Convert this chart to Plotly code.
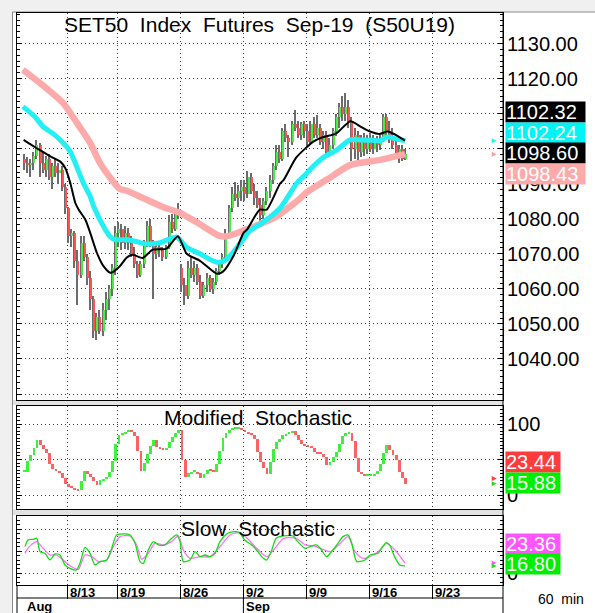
import plotly.graph_objects as go

W, H = 595, 613

# ---------------- data (x measured in trading days, 0 = 13 Aug 2019) ----------------
week_ticks = [0, 4, 9, 14, 19, 24, 29]
week_labels = ["8/13", "8/19", "8/26", "9/2", "9/9", "9/16", "9/23"]
month_ticks = [-3.4, 14]
month_labels = ["Aug", "Sep"]

session_days = list(range(-4, 27))      # 6 Aug .. 18 Sep (12 Aug holiday skipped)
BARS_PER_DAY = 4
first_day_bars = 2                      # chart starts with the last bars of 6 Aug

opens = [
    1097, 1096,
    1095.5, 1096, 1098, 1101,
    1096, 1094, 1097, 1092,
    1095, 1093, 1094, 1089,
    1083, 1075, 1076, 1068,
    1064, 1073, 1069, 1063,
    1057, 1048, 1052, 1048,
    1054, 1057, 1060, 1066,
    1076, 1077, 1073, 1076,
    1073, 1070, 1067, 1064,
    1067, 1073, 1078, 1073,
    1070, 1072, 1071, 1069,
    1072, 1079, 1077, 1082,
    1066, 1061, 1058, 1066,
    1064, 1066, 1062, 1058,
    1061, 1063, 1060, 1062,
    1065, 1067, 1069, 1076,
    1083, 1087, 1086, 1088,
    1089, 1087, 1092, 1088,
    1086, 1084, 1081, 1085,
    1088, 1091, 1095, 1099,
    1097, 1105, 1103, 1102,
    1107, 1106, 1104, 1107,
    1105, 1102, 1107, 1104,
    1106, 1102, 1104, 1099,
    1101, 1105, 1109, 1112,
    1110, 1112, 1108, 1100,
    1104, 1099, 1102, 1100,
    1103, 1100, 1102, 1101,
    1103, 1109, 1105, 1103,
    1101, 1098, 1100, 1097,
]
highs = [
    1098.5, 1097.5,
    1097, 1099, 1102.5, 1101.5,
    1099, 1098, 1098.5, 1096,
    1097, 1096, 1095, 1090,
    1083.5, 1077, 1076.5, 1071,
    1075, 1075, 1070, 1065,
    1058, 1053, 1054, 1056,
    1059, 1061, 1067, 1078,
    1079, 1078.5, 1078, 1077.5,
    1075, 1072, 1068, 1068,
    1074, 1079.5, 1080, 1074,
    1073.5, 1073, 1072, 1072.5,
    1081, 1081.5, 1083, 1084.5,
    1067, 1063, 1068, 1069.5,
    1068, 1067, 1064, 1062,
    1064.5, 1064, 1063, 1066,
    1068, 1070, 1077, 1084,
    1089, 1090.5, 1089.5, 1091,
    1091, 1093.5, 1093, 1090,
    1088, 1086, 1086, 1089,
    1092.5, 1096, 1101, 1101,
    1106, 1107, 1104, 1108,
    1111, 1108, 1107.5, 1108,
    1107, 1108, 1109, 1109.5,
    1107, 1105, 1105, 1103,
    1106, 1110, 1113, 1115,
    1116, 1114, 1109, 1106,
    1105, 1104, 1104.5, 1104,
    1104.5, 1104, 1103.5, 1104,
    1110, 1110, 1108, 1106,
    1102.5, 1101, 1101, 1100,
]
lows = [
    1094, 1093,
    1092, 1094, 1097, 1092,
    1093, 1092, 1091, 1088.5,
    1092, 1090, 1088, 1081.5,
    1073, 1072, 1066, 1055.5,
    1063, 1068, 1061, 1054,
    1046, 1045.5, 1047, 1046.5,
    1051, 1054, 1058, 1064,
    1072, 1071, 1071.5, 1071,
    1069, 1066, 1063, 1063.5,
    1066, 1072, 1072, 1057,
    1068.5, 1069, 1068, 1068.5,
    1071.5, 1076, 1076.5, 1080,
    1059, 1055.5, 1057, 1063,
    1062, 1061, 1057, 1057.5,
    1059, 1059, 1058.5, 1061,
    1064, 1066, 1068, 1075,
    1082, 1085, 1083.5, 1085,
    1085, 1086, 1087, 1084,
    1083, 1079.5, 1080, 1084,
    1086, 1090, 1094, 1096,
    1096.5, 1102, 1097.5, 1101,
    1105, 1103, 1102.5, 1103,
    1100.5, 1101, 1103, 1103,
    1101, 1100, 1098, 1097.5,
    1100, 1103.5, 1106, 1108,
    1108, 1106, 1096.5, 1097,
    1096.5, 1097.5, 1098, 1098.5,
    1099, 1098.5, 1099, 1099.5,
    1102, 1104, 1101.5, 1100,
    1097, 1096, 1096.5, 1096.8,
]
closes = [
    1096, 1095.5,
    1096, 1098, 1101, 1096,
    1094, 1097, 1092, 1095,
    1093, 1094, 1089, 1083,
    1075, 1076, 1068, 1064,
    1073, 1069, 1063, 1057,
    1048, 1052, 1048, 1054,
    1057, 1060, 1066, 1076,
    1077, 1073, 1076, 1073,
    1070, 1067, 1064, 1067,
    1073, 1078, 1073, 1070,
    1072, 1071, 1069, 1072,
    1079, 1077, 1082, 1081,
    1061, 1058, 1066, 1064,
    1066, 1062, 1058, 1061,
    1063, 1060, 1062, 1065,
    1067, 1069, 1076, 1083,
    1087, 1086, 1088, 1089,
    1087, 1092, 1088, 1086,
    1084, 1081, 1085, 1088,
    1091, 1095, 1099, 1097,
    1105, 1103, 1102, 1107,
    1106, 1104, 1107, 1105,
    1102, 1107, 1104, 1106,
    1102, 1104, 1099, 1101,
    1105, 1109, 1112, 1110,
    1112, 1108, 1100, 1104,
    1099, 1102, 1100, 1103,
    1100, 1102, 1101, 1103,
    1109, 1105, 1103, 1101,
    1098, 1100, 1097, 1098.60,
]

# moving averages
ma_black_x = [-3.44, -2.8, -2.38, -1.32, -0.53, -0.13, 0.26, 0.66, 0.93, 1.46, 1.85, 2.38, 2.91, 3.44, 3.83,
              4.2, 4.76, 5.25, 6.0, 6.8, 7.9, 8.8, 9.5, 10.56, 11.9, 12.4, 13.2, 14.0, 14.3, 15.3, 15.85,
              16.9, 17.2, 18.2, 19.55, 20.1, 21.1, 21.4, 22.5, 23.3, 24.05, 24.8, 25.45, 26.05, 26.83]
ma_black_y = [1102.5, 1101.0, 1100.1, 1097.8, 1096.3, 1094.4, 1090.2, 1084.5, 1082.6, 1079.7, 1075.9, 1070.2,
              1066.4, 1064.6, 1065.3, 1066.5, 1069.0, 1069.7, 1068.8, 1071.2, 1071.5, 1075.0, 1070.0, 1068.0,
              1064.3, 1065.0, 1069.3, 1075.9, 1077.0, 1082.6, 1082.6, 1090.0, 1091.1, 1097.5, 1102.0,
              1103.0, 1104.0, 1104.4, 1107.8, 1106.3, 1104.9, 1104.2, 1104.9, 1104.0, 1102.32]
ma_cyan_x = [-3.5, -2.6, -1.9, -1.0, -0.3, 0.2, 0.7, 1.3, 1.85, 2.12, 2.9, 3.4, 3.7, 4.2, 4.76, 5.5, 6.3,
             7.4, 8.7, 9.5, 10.56, 11.3, 11.9, 12.5, 13.2, 13.97, 14.5, 15.56, 16.9, 18.25, 18.9, 19.5,
             20.3, 21.4, 22.46, 23.3, 24.2, 24.84, 25.4, 26.1, 26.83]
ma_cyan_y = [1112.0, 1109.3, 1106.3, 1104.0, 1101.6, 1099.5, 1095.5, 1090.2, 1086.3, 1083.5, 1077.8, 1075.0,
             1074.2, 1074.0, 1074.0, 1073.5, 1072.8, 1073.2, 1074.8, 1071.8, 1070.0, 1068.5, 1067.6, 1068.0,
             1070.5, 1074.0, 1076.5, 1079.0, 1083.0, 1090.2, 1092.5, 1094.8, 1097.4, 1099.6, 1102.5, 1102.5,
             1102.4, 1102.2, 1103.3, 1102.8, 1102.24]
ma_pink_x = [-3.5, -1.9, -0.3, 0.8, 1.85, 2.6, 3.67, 4.2, 4.75, 5.8, 7.65, 8.9, 10.3, 12.1, 12.7, 13.7,
             14.8, 16.6, 18.5, 18.9, 20.9, 22.46, 24.84, 26.83]
ma_pink_y = [1122.5, 1118.0, 1113.0, 1107.3, 1101.6, 1096.0, 1090.6, 1088.5, 1088.0, 1086.3, 1083.3, 1081.8,
             1079.0, 1075.1, 1075.0, 1076.2, 1077.7, 1080.6, 1085.8, 1087.2, 1091.8, 1095.3, 1096.8, 1098.43]

# Modified Stochastic, one value per price bar
mod_stoch = [
    33, 48,
    57, 66, 77, 71,
    65, 59, 43, 36,
    34, 31, 24, 16,
    12, 10, 8, 7,
    20, 34, 30, 25,
    20, 14, 21, 23,
    25, 33, 48, 72,
    85, 87, 89, 89.5,
    89, 83, 62, 34,
    45, 58, 69, 77,
    68, 65, 64, 66,
    75, 82, 88, 91,
    50, 26, 31, 33,
    33, 31, 24, 30,
    35, 34, 33, 43,
    62, 80, 88, 92,
    94, 94, 94, 92,
    89, 87, 85, 79,
    60, 46, 38, 30,
    46, 65, 75, 79,
    84, 86, 88, 90,
    84, 78, 72, 70,
    69, 66, 60, 59,
    58, 54, 42, 46,
    53, 60, 72, 83,
    87, 87, 76, 52,
    33, 29, 28, 28,
    28, 29, 34, 44,
    59, 70, 63, 57,
    50, 32, 23.44, 15.88,
]

# Slow Stochastic lines
slow_k_x = [-3.33, -3.1, -2.67, -2.4, -2.14, -1.75, -1.35, -0.95, -0.56, -0.16, 0.24, 0.75, 1.03, 1.43, 1.83,
            2.22, 2.6, 3.15, 3.55, 3.94, 4.5, 5.0, 5.4, 5.8, 6.06, 6.45, 6.85, 7.25, 7.78, 8.17, 8.7, 8.97,
            9.23, 9.76, 10.16, 10.56, 10.95, 11.35, 11.75, 12.14, 12.67, 13.2, 13.7, 14.1, 14.66, 15.05,
            15.45, 15.85, 16.25, 16.6, 17.2, 17.96, 18.2, 18.9, 19.3, 19.8, 20.2, 20.6, 21.0, 21.5, 21.9,
            22.3, 22.6, 23.0, 23.65, 24.05, 24.7, 24.95, 25.35, 25.6, 26.0, 26.4, 26.83]
slow_k_y = [60.6, 75.7, 77.2, 79.5, 49.2, 45.4, 30.3, 43.9, 41.6, 18.9, 11.3, 7.5, 22.7, 59.1, 45.4,
            18.9, 26.5, 30.3, 56.8, 87.1, 89.4, 87.1, 68.1, 26.5, 22.7, 53.0, 71.9, 64.4, 64.4, 75.7, 87.1, 71.9,
            26.5, 30.3, 49.2, 37.8, 41.6, 37.8, 45.4, 71.9, 89.4, 94.7, 92.4, 75.7, 64.4, 53.0,
            37.8, 30.3, 53.0, 79.5, 84.8, 84.8, 75.7, 56.8, 60.6, 64.4, 53.0, 37.8, 49.2, 68.1, 83.3,
            87.1, 68.1, 26.5, 30.3, 41.6, 45.4, 56.8, 69.8, 64.4, 37.8, 18.9, 16.80]
slow_d_x = [-3.33, -3.0, -2.4, -1.9, -1.35, -0.82, -0.16, 0.37, 0.9, 1.43, 1.96, 2.5, 3.15, 3.68, 4.2, 5.0,
            5.53, 5.93, 6.45, 6.98, 7.65, 8.3, 8.84, 9.23, 9.76, 10.56, 11.35, 12.14, 12.94, 13.7, 14.3,
            15.05, 15.85, 16.4, 17.2, 18.2, 18.9, 19.6, 20.4, 20.9, 21.7, 22.3, 22.86, 23.5, 24.3, 24.85,
            25.35, 25.9, 26.83]
slow_d_y = [45.4, 60.6, 71.9, 56.8, 41.6, 41.6, 26.5, 15.1, 9.0, 41.6, 37.8, 26.5, 30.3, 60.6, 83.3, 84.8,
            64.4, 31.8, 45.4, 68.1, 64.4, 71.9, 84.8, 53.0, 34.0, 37.8, 37.8, 60.6, 87.1, 92.4, 79.5,
            56.8, 37.8, 53.0, 79.5, 79.5, 64.4, 62.1, 53.0, 49.2, 68.1, 83.3, 49.2, 34.0, 41.6, 53.0,
            68.1, 56.8, 23.36]

price_ticks = [1030, 1040, 1050, 1060, 1070, 1080, 1090, 1100, 1110, 1120, 1130]
price_hidden = [1030, 1100, 1110]       # labels covered by the value boxes
stoch_ticks = [0, 50, 100]

# ---------------- helpers ----------------
def xp(px):
    return px / W


def yp(py):
    return 1 - py / H


FONT = "Liberation Sans, Arial, sans-serif"
GRID = "#3a3a3a"
P_L, P_R = 17, 503
P1, P2, P3 = (13, 400), (406, 509), (516, 585)
XR = [(P_L - 67) / 12.6, (P_R - 67) / 12.6]

bar_x = []
for day in session_days:
    for k in range(BARS_PER_DAY):
        if day == session_days[0] and k < BARS_PER_DAY - first_day_bars:
            continue
        bar_x.append(day + (k + 0.5) / BARS_PER_DAY)

fig = go.Figure()

# pink MA under the bars
fig.add_trace(go.Scatter(x=ma_pink_x, y=ma_pink_y, mode="lines", line=dict(color="#ffaaaa", width=6.5, shape="spline", smoothing=0.6),
                         xaxis="x", yaxis="y", hoverinfo="skip"))
# price bars: grey high-low wick and coloured open-close body
fig.add_trace(go.Bar(x=[x - 0.04 for x in bar_x], base=lows, y=[h - l for h, l in zip(highs, lows)], width=0.1,
                     marker=dict(color="#6c6c6c", line=dict(width=0)), xaxis="x", yaxis="y"))
fig.add_trace(go.Bar(x=[x + 0.05 for x in bar_x], base=[min(o, c) for o, c in zip(opens, closes)],
                     y=[max(abs(c - o), 0.4) for o, c in zip(opens, closes)], width=0.12,
                     marker=dict(color=["#44ee44" if c >= o else "#ff5252" for o, c in zip(opens, closes)], line=dict(width=0)),
                     xaxis="x", yaxis="y"))
fig.add_trace(go.Scatter(x=ma_cyan_x, y=ma_cyan_y, mode="lines", line=dict(color="#22f0f4", width=5, shape="spline", smoothing=0.6),
                         xaxis="x", yaxis="y", hoverinfo="skip"))
fig.add_trace(go.Scatter(x=ma_black_x, y=ma_black_y, mode="lines", line=dict(color="#000000", width=2, shape="spline", smoothing=0.6),
                         xaxis="x", yaxis="y", hoverinfo="skip"))
# small arrows at right edge
fig.add_trace(go.Scatter(x=[34.1, 34.1], y=[ma_cyan_y[-1], ma_pink_y[-1]], mode="markers",
                         marker=dict(symbol="arrow-right", size=5, color=["#22f0f4", "#ff9a9a"]), xaxis="x", yaxis="y"))

# Modified stochastic: segments from previous to current value
prev = [mod_stoch[0]] + mod_stoch[:-1]
fig.add_trace(go.Bar(x=bar_x, base=[min(a, b) for a, b in zip(prev, mod_stoch)],
                     y=[max(abs(b - a), 1.8) for a, b in zip(prev, mod_stoch)], width=0.22,
                     marker=dict(color=["#3cf03c" if b >= a else "#ff6262" for a, b in zip(prev, mod_stoch)], line=dict(width=0)),
                     xaxis="x2", yaxis="y2"))
fig.add_trace(go.Scatter(x=[34.1, 34.1], y=[mod_stoch[-2], mod_stoch[-1]], mode="markers",
                         marker=dict(symbol="arrow-right", size=5, color=["#ff3b3b", "#22dd22"]), xaxis="x2", yaxis="y2"))

# Slow stochastic
fig.add_trace(go.Scatter(x=slow_d_x, y=slow_d_y, mode="lines", line=dict(color="#ff70ff", width=1.3, shape="spline", smoothing=0.7),
                         xaxis="x3", yaxis="y3", hoverinfo="skip"))
fig.add_trace(go.Scatter(x=slow_k_x, y=slow_k_y, mode="lines", line=dict(color="#11dd11", width=1.3, shape="spline", smoothing=0.7),
                         xaxis="x3", yaxis="y3", hoverinfo="skip"))
fig.add_trace(go.Scatter(x=[34.1, 34.1], y=[slow_d_y[-1], slow_k_y[-1]], mode="markers",
                         marker=dict(symbol="arrow-right", size=5, color=["#ff55ff", "#22dd22"]), xaxis="x3", yaxis="y3"))

xcommon = dict(range=XR, domain=[xp(P_L), xp(P_R)], tickvals=week_ticks, showticklabels=False, showgrid=True,
               gridcolor=GRID, griddash="1px,3px", gridwidth=1, zeroline=False, showline=True, linecolor="black",
               linewidth=1, mirror=True, fixedrange=True)
ycommon = dict(side="right", showgrid=True, gridcolor=GRID, griddash="1px,3px", gridwidth=1, zeroline=False,
               showline=True, linecolor="black", linewidth=1, mirror="ticks", ticks="inside", ticklen=5,
               tickcolor="black", tickfont=dict(family=FONT, size=20, color="black"), ticklabelstandoff=-1,
               fixedrange=True)

fig.update_layout(
    width=W, height=H, margin=dict(l=0, r=0, t=0, b=0), showlegend=False, barmode="overlay", bargap=0,
    paper_bgcolor="#f0f0f0", plot_bgcolor="white",
    xaxis=dict(**xcommon, anchor="y"),
    xaxis2=dict(**xcommon, anchor="y2"),
    xaxis3=dict(**xcommon, anchor="y3", ticks="outside", ticklen=13, tickcolor="black", tickwidth=1),
    yaxis=dict(**ycommon, anchor="x", domain=[yp(P1[1]), yp(P1[0])], range=[1028.3, 1138.7],
               tickvals=price_ticks, ticktext=["" if v in price_hidden else f"{v:.2f}" for v in price_ticks],
               minor=dict(tickmode="linear", tick0=1030, dtick=10 / 6, ticks="inside", ticklen=3, tickcolor="black", showgrid=False)),
    yaxis2=dict(**ycommon, anchor="x2", domain=[yp(P2[1]), yp(P2[0])], range=[-19.7, 125.4],
                tickvals=stoch_ticks, ticktext=["0", "", "100"],
                minor=dict(tickmode="linear", tick0=0, dtick=5, ticks="inside", ticklen=3, tickcolor="black", showgrid=False)),
    yaxis3=dict(**ycommon, anchor="x3", domain=[yp(P3[1]), yp(P3[0])], range=[-26.6, 130.2],
                tickvals=stoch_ticks, ticktext=["0", "", ""],
                minor=dict(tickmode="linear", tick0=0, dtick=10, ticks="inside", ticklen=3, tickcolor="black", showgrid=False)),
)

shapes = [
    # white chart area with grey frame
    dict(type="rect", xref="paper", yref="paper", x0=xp(12.5), x1=1.01, y0=-0.01, y1=yp(12), layer="below",
         fillcolor="white", line=dict(color="#8a8a8a", width=1)),
    # separators between panels
    dict(type="rect", xref="paper", yref="paper", x0=xp(13), x1=xp(P_R), y0=yp(405), y1=yp(400), layer="below",
         fillcolor="#e2e2e2", line=dict(width=0)),
    dict(type="rect", xref="paper", yref="paper", x0=xp(13), x1=xp(P_R), y0=yp(515), y1=yp(509.5), layer="below",
         fillcolor="#e2e2e2", line=dict(width=0)),
    # date strip lines
    dict(type="line", xref="paper", yref="paper", x0=xp(P_L), x1=xp(P_R), y0=yp(598), y1=yp(598), line=dict(color="black", width=1)),
    dict(type="line", xref="paper", yref="paper", x0=xp(P_R), x1=xp(P_R), y0=0, y1=yp(12), line=dict(color="black", width=1)),
    dict(type="line", xref="paper", yref="paper", x0=xp(P_L), x1=xp(P_L), y0=0, y1=yp(585), line=dict(color="black", width=1)),
]
for mt in month_ticks[1:]:
    shapes.append(dict(type="line", xref="x3", yref="paper", x0=mt, x1=mt, y0=0, y1=yp(598), line=dict(color="black", width=1)))
fig.update_layout(shapes=shapes)

ann = []
NB = "\u00a0\u00a0"
ann.append(dict(text=NB.join(["SET50", "Index", "Futures", "Sep-19", "(S50U19)"]), xref="paper", yref="paper",
                x=xp(259), y=yp(25), xanchor="center", yanchor="middle", showarrow=False,
                font=dict(family=FONT, size=21, color="black")))
ann.append(dict(text=NB.join(["Modified", "Stochastic"]), xref="paper", yref="paper", x=xp(258), y=yp(417),
                xanchor="center", yanchor="middle", showarrow=False, font=dict(family=FONT, size=21, color="black")))
ann.append(dict(text=NB.join(["Slow", "Stochastic"]), xref="paper", yref="paper", x=xp(257.5), y=yp(528.5),
                xanchor="center", yanchor="middle", showarrow=False, font=dict(family=FONT, size=21, color="black")))
for t, lab in zip(week_ticks, week_labels):
    ann.append(dict(text=f"<b>{lab}</b>", xref="x3", yref="paper", x=t, y=yp(592), xanchor="left", yanchor="middle",
                    xshift=1, showarrow=False, font=dict(family=FONT, size=13, color="black")))
for t, lab in zip(month_ticks, month_labels):
    ann.append(dict(text=f"<b>{lab}</b>", xref="x3", yref="paper", x=t, y=yp(606), xanchor="left", yanchor="middle",
                    xshift=1, showarrow=False, font=dict(family=FONT, size=13, color="black")))
ann.append(dict(text="60\u00a0\u00a0min", xref="paper", yref="paper", x=xp(561), y=yp(599), xanchor="center",
                yanchor="middle", showarrow=False, font=dict(family=FONT, size=14, color="black")))


def box(val, color, cy, w, fc="white"):
    return dict(text=f"{val:.2f}", xref="paper", yref="paper", x=xp(505), y=yp(cy), xanchor="left", yanchor="middle",
                showarrow=False, bgcolor=color, width=w, height=20, align="left", borderpad=0,
                font=dict(family=FONT, size=20, color=fc))


ann += [
    box(ma_black_y[-1], "#000000", 112, 79),
    box(ma_cyan_y[-1], "#00f4f4", 132.5, 79),
    box(closes[-1], "#000000", 153, 79),
    box(ma_pink_y[-1], "#ffaaaa", 174, 79),
    box(mod_stoch[-2], "#ff3b3b", 462, 54),
    box(mod_stoch[-1], "#00ee00", 482.5, 54),
    box(slow_d_y[-1], "#ff55ff", 544, 54),
    box(slow_k_y[-1], "#00ee00", 564, 54),
]
fig.update_layout(annotations=ann)

fig.write_html("out.html", config={"displayModeBar": False},
               post_script="document.body.style.margin='0';document.body.style.overflow='hidden';")
